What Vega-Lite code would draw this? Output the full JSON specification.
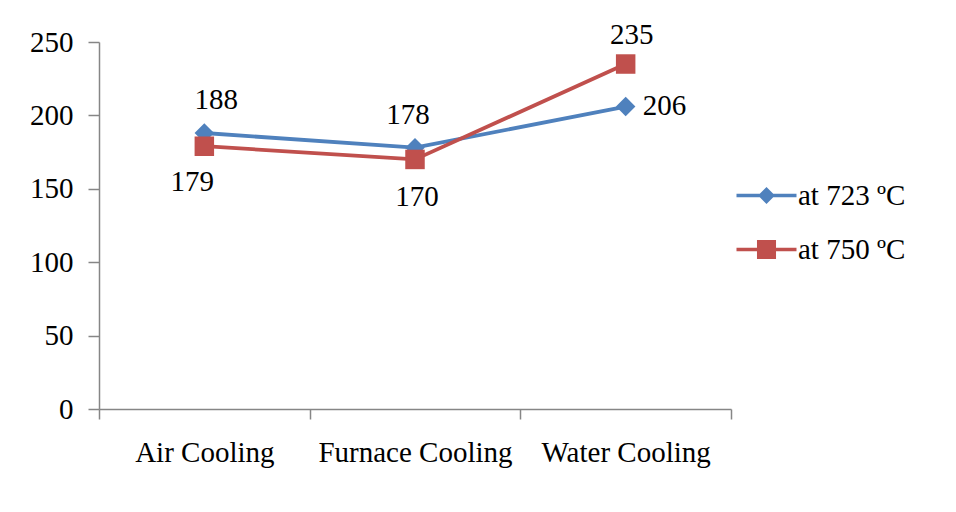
{
  "$schema": "https://vega.github.io/schema/vega-lite/v6.json",
  "autosize": "none",
  "width": 632,
  "height": 367,
  "padding": {"left": 99, "top": 42, "right": 225, "bottom": 103},
  "background": "white",
  "config": {
    "view": {"stroke": null},
    "font": "Liberation Serif"
  },
  "data": {
    "values": [
      {"cooling": "Air Cooling", "series": "at 723 ºC", "value": 188},
      {"cooling": "Furnace Cooling", "series": "at 723 ºC", "value": 178},
      {"cooling": "Water Cooling", "series": "at 723 ºC", "value": 206},
      {"cooling": "Air Cooling", "series": "at 750 ºC", "value": 179},
      {"cooling": "Furnace Cooling", "series": "at 750 ºC", "value": 170},
      {"cooling": "Water Cooling", "series": "at 750 ºC", "value": 235}
    ]
  },
  "encoding": {
    "x": {
      "field": "cooling", "type": "nominal", "sort": null,
      "scale": {"type": "band", "paddingInner": 0, "paddingOuter": 0},
      "axis": {
        "title": null, "labelAngle": 0, "tickBand": "extent", "grid": false, "labelLimit": 0,
        "domainColor": "#868686", "tickColor": "#868686", "domainWidth": 1.5, "tickWidth": 1.5,
        "tickSize": 10, "labelPadding": 19,
        "labelFont": "Liberation Serif", "labelFontSize": 29, "labelColor": "#000000"
      }
    },
    "y": {
      "field": "value", "type": "quantitative",
      "scale": {"domain": [0, 250], "nice": false, "zero": true},
      "axis": {
        "title": null, "values": [0, 50, 100, 150, 200, 250], "grid": false,
        "domainColor": "#868686", "tickColor": "#868686", "domainWidth": 1.5, "tickWidth": 1.5,
        "tickSize": 11, "labelPadding": 15,
        "labelFont": "Liberation Serif", "labelFontSize": 29, "labelColor": "#000000"
      }
    }
  },
  "layer": [
    {
      "mark": {"type": "line", "strokeWidth": 3.8},
      "encoding": {
        "color": {
          "field": "series", "type": "nominal", "legend": null,
          "scale": {"domain": ["at 723 ºC", "at 750 ºC"], "range": ["#4F81BD", "#C0504D"]}
        }
      }
    },
    {
      "mark": {"type": "point", "filled": true, "size": 0, "opacity": 1, "strokeWidth": 0},
      "encoding": {
        "color": {
          "field": "series", "type": "nominal", "legend": null,
          "scale": {"domain": ["at 723 ºC", "at 750 ºC"], "range": ["#4F81BD", "#C0504D"]}
        },
        "shape": {
          "field": "series", "type": "nominal",
          "scale": {
            "domain": ["at 723 ºC", "at 750 ºC"],
            "range": [
              "M-3.75,-0.22L-0.84,-0.22L0,-1.06L0.84,-0.22L3.75,-0.22L3.75,0.22L0.84,0.22L0,1.06L-0.84,0.22L-3.75,0.22Z",
              "M-3.75,-0.22L-1.19,-0.22L-1.19,-1.19L1.19,-1.19L1.19,-0.22L3.75,-0.22L3.75,0.22L1.19,0.22L1.19,1.19L-1.19,1.19L-1.19,0.22L-3.75,0.22Z"
            ]
          },
          "legend": {
            "title": null, "orient": "none", "legendX": 653, "legendY": 139,
            "symbolSize": 256, "symbolStrokeWidth": 0, "symbolOpacity": 1,
            "symbolFillColor": {"expr": "scale('color', datum.value)"},
            "labelFont": "Liberation Serif", "labelFontSize": 29, "labelColor": "#000000",
            "labelOffset": 17, "rowPadding": 24
          }
        }
      }
    },
    {
      "mark": {"type": "point", "filled": true, "size": 380, "opacity": 1, "strokeWidth": 0},
      "encoding": {
        "color": {
          "field": "series", "type": "nominal", "legend": null,
          "scale": {"domain": ["at 723 ºC", "at 750 ºC"], "range": ["#4F81BD", "#C0504D"]}
        },
        "shape": {
          "field": "series", "type": "nominal", "legend": null,
          "scale": {"domain": ["at 723 ºC", "at 750 ºC"], "range": ["diamond", "square"]}
        }
      }
    },
    {
      "transform": [{"filter": "datum.cooling === 'Air Cooling' && datum.series === 'at 723 ºC'"}],
      "mark": {"type": "text", "fontSize": 29, "font": "Liberation Serif", "color": "#000000", "baseline": "middle", "dx": 12, "dy": -33},
      "encoding": {"text": {"field": "value", "type": "quantitative"}}
    },
    {
      "transform": [{"filter": "datum.cooling === 'Air Cooling' && datum.series === 'at 750 ºC'"}],
      "mark": {"type": "text", "fontSize": 29, "font": "Liberation Serif", "color": "#000000", "baseline": "middle", "dx": -12, "dy": 36},
      "encoding": {"text": {"field": "value", "type": "quantitative"}}
    },
    {
      "transform": [{"filter": "datum.cooling === 'Furnace Cooling' && datum.series === 'at 723 ºC'"}],
      "mark": {"type": "text", "fontSize": 29, "font": "Liberation Serif", "color": "#000000", "baseline": "middle", "dx": -7, "dy": -33},
      "encoding": {"text": {"field": "value", "type": "quantitative"}}
    },
    {
      "transform": [{"filter": "datum.cooling === 'Furnace Cooling' && datum.series === 'at 750 ºC'"}],
      "mark": {"type": "text", "fontSize": 29, "font": "Liberation Serif", "color": "#000000", "baseline": "middle", "dx": 2, "dy": 38},
      "encoding": {"text": {"field": "value", "type": "quantitative"}}
    },
    {
      "transform": [{"filter": "datum.cooling === 'Water Cooling' && datum.series === 'at 750 ºC'"}],
      "mark": {"type": "text", "fontSize": 29, "font": "Liberation Serif", "color": "#000000", "baseline": "middle", "dx": 6, "dy": -29},
      "encoding": {"text": {"field": "value", "type": "quantitative"}}
    },
    {
      "transform": [{"filter": "datum.cooling === 'Water Cooling' && datum.series === 'at 723 ºC'"}],
      "mark": {"type": "text", "fontSize": 29, "font": "Liberation Serif", "color": "#000000", "baseline": "middle", "align": "left", "dx": 17, "dy": -1},
      "encoding": {"text": {"field": "value", "type": "quantitative"}}
    }
  ],
  "resolve": {"scale": {"shape": "independent"}}
}
